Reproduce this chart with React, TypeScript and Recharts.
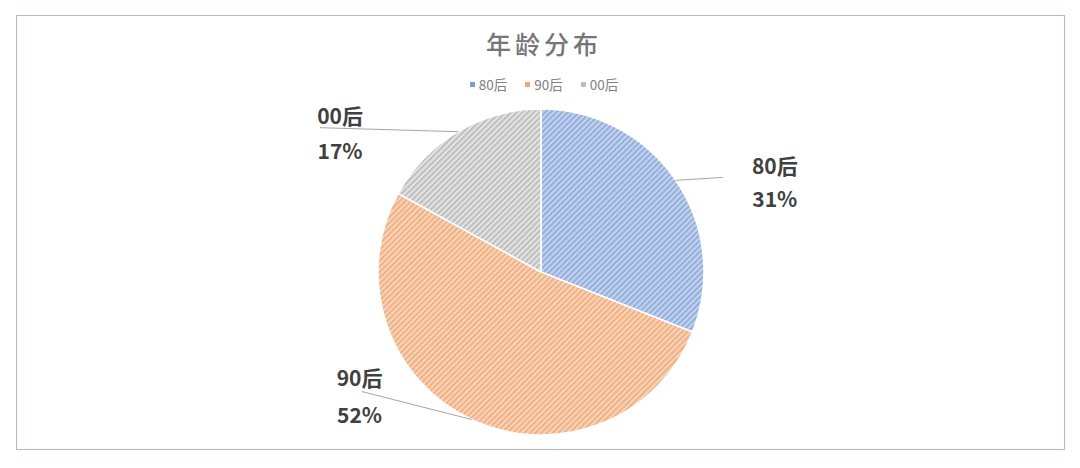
import { Pie, PieChart } from "recharts";

const categories = ["80后", "90后", "00后"];
const shares = [31, 52, 17];

const baseColors = ["#c3d2ec", "#f8d3b8", "#e2e2e2"];
const stripeColors = ["#8aa8db", "#eeaa78", "#b8b8b8"];
const legendColors = ["#7f9cd0", "#eaa77a", "#bdbdbd"];

// label placement relative to the slice edge point (text center x / baselines / leader end)
const labelLayout = [
  { dx: 99, dy1: -6, dy2: 27, lx: 47, ly: -3 },
  { dx: -112, dy1: -33, dy2: 4, lx: -110, ly: -28 },
  { dx: -118, dy1: -8, dy2: 27, lx: -138, ly: -4 },
];

const data = categories.map((name, i) => ({
  name,
  value: shares[i],
  fill: `url(#hatch${i})`,
}));

const RAD = Math.PI / 180;
const FONT = "'Noto Sans CJK SC', 'Noto Sans', sans-serif";

function renderLabel(props: any) {
  const { cx, cy, midAngle, outerRadius, index, name, value } = props;
  const ex = cx + outerRadius * Math.cos(-midAngle * RAD);
  const ey = cy + outerRadius * Math.sin(-midAngle * RAD);
  const l = labelLayout[index];
  return (
    <g key={`lbl-${index}`}>
      <line x1={ex} y1={ey} x2={ex + l.lx} y2={ey + l.ly} stroke="#a6a6a6" strokeWidth={1} />
      <text x={ex + l.dx} y={ey + l.dy1} textAnchor="middle" fontSize={21} fontWeight={700} fill="#404040" fontFamily={FONT}>
        {name}
      </text>
      <text x={ex + l.dx} y={ey + l.dy2} textAnchor="middle" fontSize={21} fontWeight={700} fill="#404040" fontFamily={FONT}>
        {value}%
      </text>
    </g>
  );
}

export default function App() {
  return (
    <div style={{ position: "absolute", left: 0, top: 0, width: 1080, height: 468, background: "#fff" }}>
      <div
        style={{
          position: "absolute",
          left: 16,
          top: 15,
          width: 1047,
          height: 433,
          border: "1.5px solid #d6b0a2",
        }}
      />
      <div
        style={{
          position: "absolute",
          left: 0,
          top: 25,
          width: 1080,
          textAlign: "center",
          fontFamily: FONT,
          fontSize: 25,
          fontWeight: 500,
          letterSpacing: 4,
          color: "#767676",
          paddingLeft: 4,
        }}
      >
        年龄分布
      </div>
      <div
        style={{
          position: "absolute",
          left: 0,
          top: 74,
          width: 1080,
          display: "flex",
          justifyContent: "center",
          gap: 18,
          fontFamily: FONT,
          fontSize: 13.5,
          color: "#808080",
          paddingLeft: 4,
        }}
      >
        {categories.map((c, i) => (
          <span key={c} style={{ display: "flex", alignItems: "center" }}>
            <span style={{ width: 5, height: 5, background: legendColors[i], marginRight: 4, display: "inline-block" }} />
            {c}
          </span>
        ))}
      </div>
      <div style={{ position: "absolute", left: 0, top: 0 }}>
        <PieChart width={1080} height={468} margin={{ top: 0, right: 0, bottom: 0, left: 0 }}>
          <defs>
            {baseColors.map((c, i) => (
              <pattern key={i} id={`hatch${i}`} patternUnits="userSpaceOnUse" width={4} height={4} patternTransform="rotate(45)">
                <rect width={4} height={4} fill={c} />
                <rect width={1.6} height={4} fill={stripeColors[i]} />
              </pattern>
            ))}
          </defs>
          <Pie
            data={data}
            dataKey="value"
            nameKey="name"
            cx={541}
            cy={272}
            outerRadius={163}
            startAngle={90}
            endAngle={-270}
            stroke="#ffffff"
            strokeWidth={1.5}
            label={renderLabel}
            labelLine={false}
            isAnimationActive={false}
          />
        </PieChart>
      </div>
    </div>
  );
}
